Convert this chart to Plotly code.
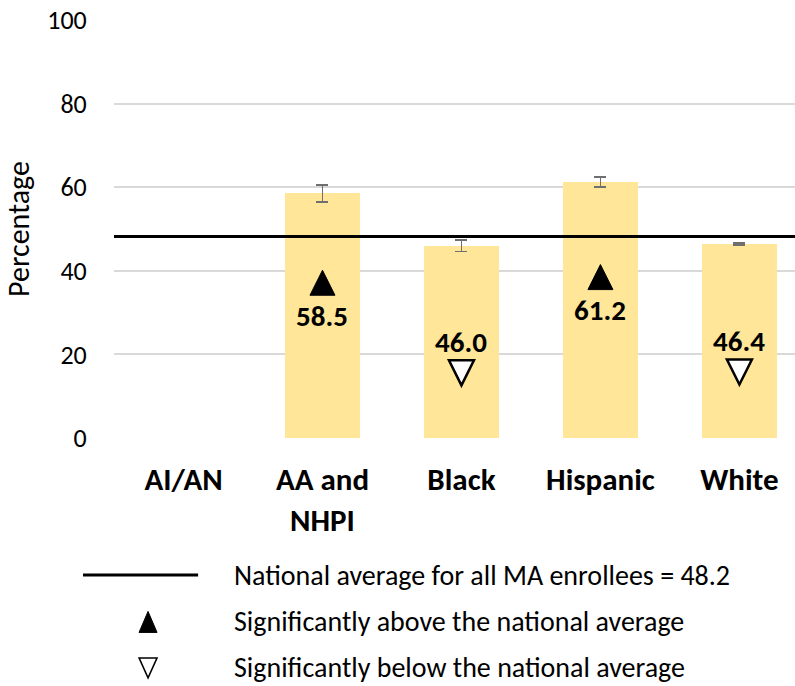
import plotly.graph_objects as go

# Share of enrollees by race/ethnicity
categories = ["AI/AN", "AA and<br>NHPI", "Black", "Hispanic", "White"]
values = [None, 58.5, 46.0, 61.2, 46.4]
errors = [None, 2.0, 1.4, 1.2, 0.2]
# +1 above national average, -1 below, 0 no significant difference / no data
significance = [0, 1, -1, 1, -1]
national_avg = 48.2
y_ticks = [0, 20, 40, 60, 80, 100]

FONT = "Calibri, Carlito, Lato, sans-serif"
BAR = "#FFE699"

idx = list(range(len(categories)))

fig = go.Figure()
fig.add_trace(go.Bar(
    x=idx, y=values, width=0.54,
    marker=dict(color=BAR, line=dict(width=0)),
    error_y=dict(type="data", array=errors, color="#6f6f6f", thickness=1.6, width=6),
    hoverinfo="skip",
))


def triangle(dy, half_w, half_h, up):
    # pixel-space triangle path centred dy pixels above its anchor (y positive = up)
    if up:
        return f"M{-half_w},{dy-half_h} L{half_w},{dy-half_h} L0,{dy+half_h} Z"
    return f"M{-half_w},{dy+half_h} L{half_w},{dy+half_h} L0,{dy-half_h} Z"


shapes = []
annotations = []
for i, v, s in zip(idx, values, significance):
    if v is None:
        continue
    annotations.append(dict(
        x=i, y=v / 2, xref="x", yref="y", text=f"<b>{v:.1f}</b>",
        showarrow=False, font=dict(family=FONT, size=29, color="black"),
    ))
    if s > 0:
        shapes.append(dict(
            type="path", xref="x", yref="y", xsizemode="pixel", ysizemode="pixel",
            xanchor=i, yanchor=v / 2, path=triangle(33, 12.5, 12.5, True),
            fillcolor="black", line=dict(color="black", width=1),
        ))
    elif s < 0:
        shapes.append(dict(
            type="path", xref="x", yref="y", xsizemode="pixel", ysizemode="pixel",
            xanchor=i, yanchor=v / 2, path=triangle(-31, 12.5, 12.5, False),
            fillcolor="white", line=dict(color="black", width=2.5),
        ))

# national average reference line
shapes.append(dict(type="line", xref="paper", yref="y", x0=0, x1=1,
                   y0=national_avg, y1=national_avg,
                   line=dict(color="black", width=3), layer="above"))

# key below the chart
key_y = [-0.328, -0.44, -0.55]
shapes.append(dict(type="line", xref="paper", yref="paper", x0=-0.0455, x1=0.1235,
                   y0=key_y[0], y1=key_y[0], line=dict(color="black", width=3)))
shapes.append(dict(type="path", xref="paper", yref="paper", xsizemode="pixel",
                   ysizemode="pixel", xanchor=0.05, yanchor=key_y[1],
                   path=triangle(0, 9, 10.5, True), fillcolor="black",
                   line=dict(color="black", width=1)))
shapes.append(dict(type="path", xref="paper", yref="paper", xsizemode="pixel",
                   ysizemode="pixel", xanchor=0.05, yanchor=key_y[2],
                   path=triangle(0, 9, 10, False), fillcolor="white",
                   line=dict(color="black", width=1.5)))

key_text = [
    f"National average for all MA enrollees = {national_avg}",
    "Significantly above the national average",
    "Significantly below the national average",
]
for t, yy in zip(key_text, key_y):
    annotations.append(dict(x=0.174, y=yy, xref="paper", yref="paper", text=t,
                            showarrow=False, xanchor="left", yanchor="middle",
                            font=dict(family=FONT, size=28, color="black")))

fig.update_layout(
    width=795, height=686,
    margin=dict(l=114, r=0, t=20, b=248),
    plot_bgcolor="white", paper_bgcolor="white",
    showlegend=False, bargap=0,
    shapes=shapes, annotations=annotations,
    xaxis=dict(
        range=[-0.5, 4.4], tickmode="array", tickvals=idx,
        ticktext=[f"<b>{c}</b>" for c in categories],
        tickfont=dict(family=FONT, size=31, color="black"),
        ticks="outside", ticklen=14, tickcolor="rgba(0,0,0,0)",
        showgrid=False, showline=False, zeroline=False,
    ),
    yaxis=dict(
        range=[0, 100], tickvals=y_ticks,
        tickfont=dict(family=FONT, size=26, color="black"),
        ticks="outside", ticklen=21, tickcolor="rgba(0,0,0,0)",
        gridcolor="#d9d9d9", gridwidth=1.5, zeroline=False, showline=False,
        title=dict(text="Percentage", font=dict(family=FONT, size=30, color="black"),
                   standoff=10),
    ),
)

fig.write_html("out.html")
